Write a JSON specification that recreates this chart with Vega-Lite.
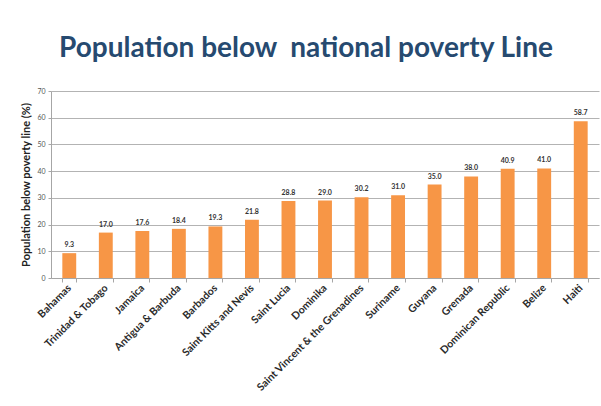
{
  "$schema": "https://vega.github.io/schema/vega-lite/v6.json",
  "width": 548,
  "height": 187,
  "autosize": "none",
  "padding": {"left": 51, "top": 91, "right": 2, "bottom": 128},
  "background": "white",
  "title": {
    "text": "Population below\u00a0 national poverty Line",
    "font": "Lato",
    "fontSize": 28,
    "fontWeight": "bold",
    "color": "#264a70",
    "anchor": "middle",
    "dx": -19,
    "offset": 24
  },
  "data": {
    "values": [
      {"country": "Bahamas", "value": 9.3},
      {"country": "Trinidad & Tobago", "value": 17.0},
      {"country": "Jamaica", "value": 17.6},
      {"country": "Antigua & Barbuda", "value": 18.4},
      {"country": "Barbados", "value": 19.3},
      {"country": "Saint Kitts and Nevis", "value": 21.8},
      {"country": "Saint Lucia", "value": 28.8},
      {"country": "Dominika", "value": 29.0},
      {"country": "Saint Vincent & the Grenadines", "value": 30.2},
      {"country": "Suriname", "value": 31.0},
      {"country": "Guyana", "value": 35.0},
      {"country": "Grenada", "value": 38.0},
      {"country": "Dominican Republic", "value": 40.9},
      {"country": "Belize", "value": 41.0},
      {"country": "Haiti", "value": 58.7}
    ]
  },
  "encoding": {
    "x": {
      "field": "country",
      "type": "nominal",
      "sort": null,
      "scale": {"paddingInner": 0.62, "paddingOuter": 0.31},
      "axis": {
        "title": null,
        "labelAngle": -45,
        "labelAlign": "right",
        "labelBaseline": "middle",
        "labelFont": "Lato",
        "labelFontSize": 10.5,
        "labelFontWeight": "bold",
        "labelColor": "#2b2b2b",
        "labelPadding": 4,
        "tickBand": "extent",
        "tickSize": 4,
        "tickColor": "#a6a6a6",
        "domainColor": "#a6a6a6",
        "labelOverlap": false
      }
    },
    "y": {
      "field": "value",
      "type": "quantitative",
      "scale": {"domain": [0, 70]},
      "axis": {
        "title": "Population below poverty line (%)",
        "titleFont": "Lato",
        "titleFontSize": 11,
        "titleFontWeight": "bold",
        "titleColor": "#222222",
        "titlePadding": 5,
        "values": [0, 10, 20, 30, 40, 50, 60, 70],
        "labelFont": "Lato",
        "labelFontSize": 7,
        "labelColor": "#555555",
        "labelPadding": 3,
        "tickSize": 3,
        "tickColor": "#a6a6a6",
        "domainColor": "#a6a6a6",
        "gridColor": "#b3b3b3",
        "gridWidth": 1
      }
    }
  },
  "layer": [
    {"mark": {"type": "bar", "color": "#F79646"}},
    {
      "mark": {"type": "text", "baseline": "bottom", "dy": -5, "font": "Lato", "fontSize": 7, "fontWeight": "bold", "color": "#333333"},
      "encoding": {"text": {"field": "value", "type": "quantitative", "format": ".1f"}}
    }
  ],
  "config": {"view": {"stroke": null}}
}
